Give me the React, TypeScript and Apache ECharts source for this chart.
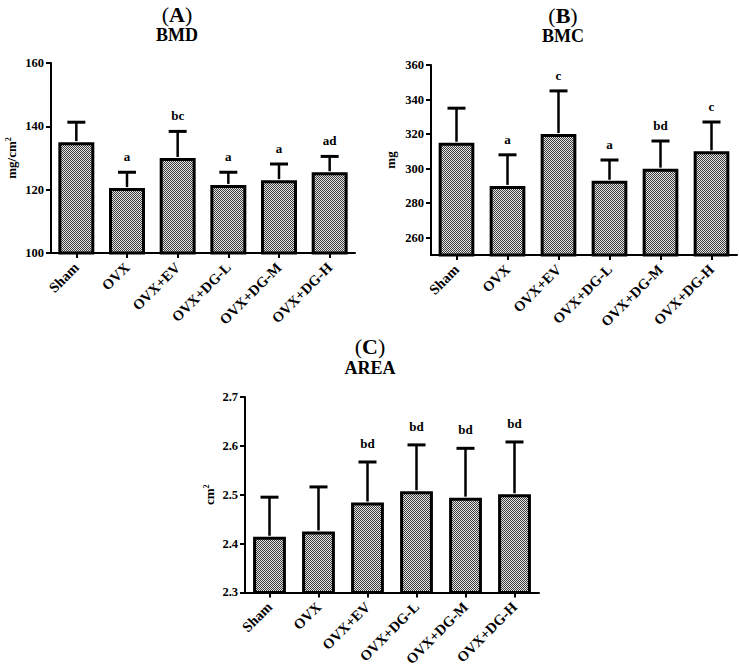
import React, { useEffect, useRef } from "react";
import * as echarts from "echarts";

const categories = ["Sham", "OVX", "OVX+EV", "OVX+DG-L", "OVX+DG-M", "OVX+DG-H"];

const bmdMean = [135, 120.5, 130, 121.5, 123, 125.5];
const bmdErr = [6.3, 5, 8.4, 4, 5.1, 5];
const bmdLetters = ["", "a", "bc", "a", "a", "ad"];

const bmcMean = [315, 290, 320, 293, 300, 310];
const bmcErr = [20, 18, 25, 12, 16, 17];
const bmcLetters = ["", "a", "c", "a", "bd", "c"];

const areaMean = [2.414, 2.425, 2.484, 2.507, 2.494, 2.501];
const areaErr = [0.081, 0.091, 0.083, 0.095, 0.101, 0.107];
const areaLetters = ["", "", "bd", "bd", "bd", "bd"];

const bmdTicks = [100, 120, 140, 160];
const bmcTicks = [260, 280, 300, 320, 340, 360];
const areaTicks = [2.3, 2.4, 2.5, 2.6, 2.7];

const FONT = "'Liberation Serif', 'Times New Roman', serif";

function makePattern() {
  const c = document.createElement("canvas");
  c.width = 2;
  c.height = 2;
  const ctx = c.getContext("2d")!;
  ctx.fillStyle = "#e6e6e6";
  ctx.fillRect(0, 0, 2, 2);
  ctx.fillStyle = "#3c3c3c";
  ctx.fillRect(0, 0, 1, 1);
  ctx.fillRect(1, 1, 1, 1);
  return { image: c.toDataURL(), repeat: "repeat", imageWidth: 2, imageHeight: 2 } as any;
}

export default function App() {
  const ref = useRef<HTMLDivElement>(null);
  useEffect(() => {
    document.body.style.margin = "0";
    const chart = echarts.init(ref.current!, null, { renderer: "svg" });
    const pattern = makePattern();

    const grids = [
      { left: 51, top: 63, width: 304, height: 190 },
      { left: 431, top: 65, width: 306, height: 190 },
      { left: 245, top: 397, width: 294, height: 199 },
    ];

    const axisLine = { show: true, onZero: false, lineStyle: { color: "#000", width: 2 } };
    const tickStyle = { show: true, length: 5, lineStyle: { color: "#000", width: 2 } };

    const xAxes = grids.map((_, i) => ({
      type: "category",
      gridIndex: i,
      data: categories,
      axisLine,
      axisTick: { ...tickStyle, alignWithLabel: true },
      splitLine: { show: false },
      axisLabel: {
        rotate: 45,
        interval: 0,
        margin: 12,
        color: "#000",
        fontFamily: FONT,
        fontWeight: "bold",
        fontSize: 14.5,
      },
    }));

    const yLabel = {
      color: "#000",
      fontFamily: FONT,
      fontWeight: "bold",
      fontSize: 12.5,
      margin: 7,
    };
    const nameStyle = {
      color: "#000",
      fontFamily: FONT,
      fontWeight: "bold",
      fontSize: 13,
      rich: {
        sup: { fontSize: 8, verticalAlign: "top", fontFamily: FONT, fontWeight: "bold", color: "#000", padding: [0, 0, 6, 0] },
      },
    };

    const yAxes = [
      {
        type: "value",
        gridIndex: 0,
        min: 100,
        max: 160,
        interval: 20,
        axisLine,
        splitLine: { show: false },
        axisTick: { ...tickStyle, customValues: bmdTicks },
        axisLabel: { ...yLabel, customValues: bmdTicks },
        name: "mg/cm{sup|2}",
        nameLocation: "middle",
        nameGap: 33,
        nameTextStyle: nameStyle,
      },
      {
        type: "value",
        gridIndex: 1,
        min: 250,
        max: 360,
        axisLine,
        splitLine: { show: false },
        axisTick: { ...tickStyle, customValues: bmcTicks },
        axisLabel: { ...yLabel, customValues: bmcTicks },
        name: "mg",
        nameLocation: "middle",
        nameGap: 34,
        nameTextStyle: nameStyle,
      },
      {
        type: "value",
        gridIndex: 2,
        min: 2.3,
        max: 2.7,
        axisLine,
        splitLine: { show: false },
        axisTick: { ...tickStyle, customValues: areaTicks },
        axisLabel: { ...yLabel, customValues: areaTicks, formatter: (v: number) => v.toFixed(1) },
        name: "cm{sup|2}",
        nameLocation: "middle",
        nameGap: 29,
        nameTextStyle: nameStyle,
      },
    ];

    const panels = [
      { mean: bmdMean, err: bmdErr, letters: bmdLetters, off: 9, bw: "71%" },
      { mean: bmcMean, err: bmcErr, letters: bmcLetters, off: 9, bw: "70%" },
      { mean: areaMean, err: areaErr, letters: areaLetters, off: 12, bw: "67%" },
    ];

    const series: any[] = [];
    panels.forEach((p, i) => {
      series.push({
        type: "bar",
        xAxisIndex: i,
        yAxisIndex: i,
        data: p.mean,
        barWidth: p.bw,
        itemStyle: { color: pattern, borderColor: "#000", borderWidth: 3 },
        z: 2,
      });
      series.push({
        type: "custom",
        xAxisIndex: i,
        yAxisIndex: i,
        data: p.mean.map((m, k) => [k, m, m + p.err[k]]),
        z: 3,
        renderItem: (params: any, api: any) => {
          const idx = api.value(0);
          const base = api.coord([idx, api.value(1)]);
          const top = api.coord([idx, api.value(2)]);
          const half = 9;
          const children: any[] = [
            {
              type: "line",
              shape: { x1: base[0], y1: base[1] - 1, x2: top[0], y2: top[1] },
              style: { stroke: "#000", lineWidth: 2.5 },
            },
            {
              type: "line",
              shape: { x1: top[0] - half, y1: top[1], x2: top[0] + half, y2: top[1] },
              style: { stroke: "#000", lineWidth: 3 },
            },
          ];
          const letter = p.letters[params.dataIndex];
          if (letter) {
            children.push({
              type: "text",
              style: {
                text: letter,
                x: top[0],
                y: top[1] - p.off,
                align: "center",
                verticalAlign: "bottom",
                fill: "#000",
                font: `bold 13px ${FONT}`,
              },
            });
          }
          return { type: "group", children };
        },
      });
    });

    const titleTexts = [
      { x: 177, y: 14, label: "A", name: "BMD", ny: 35 },
      { x: 563, y: 15, label: "B", name: "BMC", ny: 36 },
      { x: 370, y: 346, label: "C", name: "AREA", ny: 368 },
    ];
    const graphic: any[] = [];
    titleTexts.forEach((t) => {
      graphic.push({
        type: "text",
        x: t.x,
        y: t.y,
        style: {
          text: `{p|(}{b|${t.label}}{p|)}`,
          align: "center",
          verticalAlign: "middle",
          fill: "#000",
          rich: {
            p: { fontFamily: FONT, fontSize: 22, fontWeight: "normal", fill: "#000" },
            b: { fontFamily: FONT, fontSize: 22, fontWeight: "bold", fill: "#000" },
          },
        },
      });
      graphic.push({
        type: "text",
        x: t.x,
        y: t.ny,
        style: {
          text: t.name,
          align: "center",
          verticalAlign: "middle",
          fill: "#000",
          font: `bold 18px ${FONT}`,
        },
      });
    });

    chart.setOption({
      animation: false,
      backgroundColor: "#fff",
      grid: grids.map((g) => ({ ...g, containLabel: false })),
      xAxis: xAxes,
      yAxis: yAxes,
      series,
      graphic,
    });
    return () => chart.dispose();
  }, []);
  return <div ref={ref} style={{ width: 739, height: 669 }} />;
}
